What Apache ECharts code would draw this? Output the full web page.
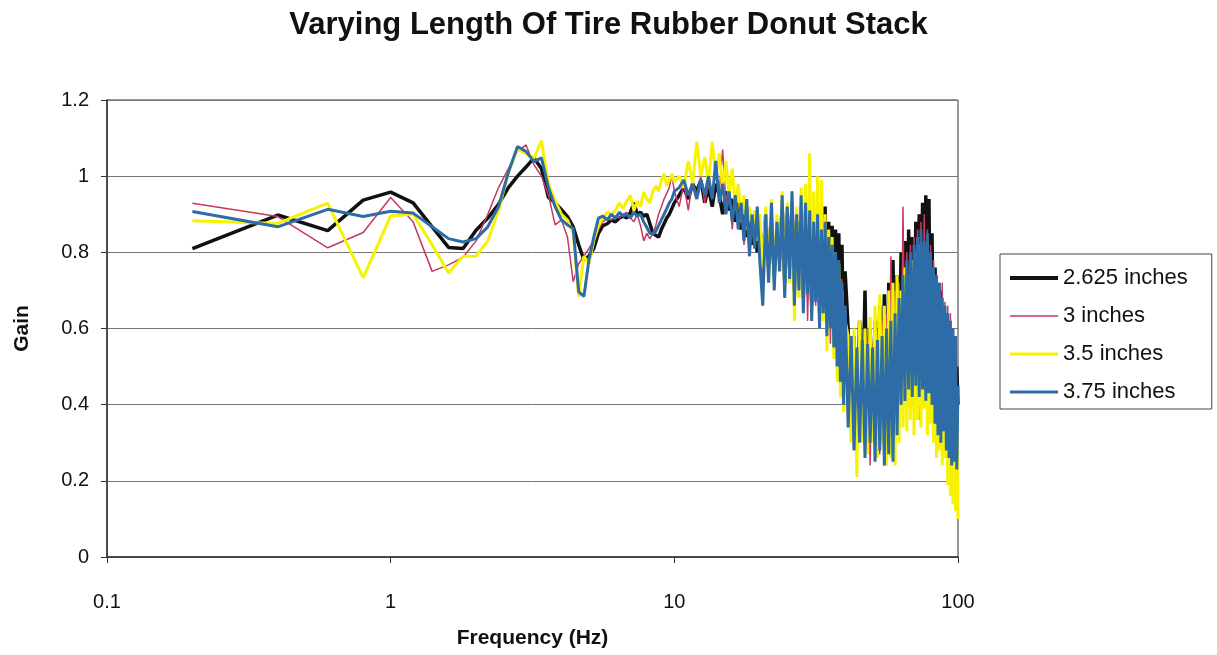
<!DOCTYPE html>
<html>
<head>
<meta charset="utf-8">
<script src="https://cdn.jsdelivr.net/npm/echarts@6/dist/echarts.min.js"></script>
<style>
html,body{margin:0;padding:0;background:#fff;}
#chart{width:1217px;height:655px;}
</style>
</head>
<body>
<div id="chart"></div>
<script>
// Frequency samples (Hz)
const freq = [
  0.2,0.4,0.6,0.8,1,1.2,1.4,1.6,1.8,2,
  2.2,2.4,2.6,2.8,3,3.2,3.4,3.6,3.8,4,
  4.2,4.4,4.6,4.8,5,5.2,5.4,5.6,5.8,6,
  6.2,6.4,6.6,6.8,7,7.2,7.4,7.6,7.8,8,
  8.2,8.4,8.6,8.8,9,9.2,9.4,9.6,9.8,10,
  10.4,10.8,11.2,11.6,12,12.4,12.8,13.2,13.6,14,14.4,14.8,15.2,15.6,16,16.4,16.8,17.2,17.6,18,18.4,18.8,19.2,19.6,20,
  20.5,21,21.5,22,22.5,23,23.5,24,24.5,25,25.5,26,26.5,27,27.5,28,28.5,29,29.5,30,
  30.5,31,31.5,32,32.5,33,33.5,34,34.5,35,35.5,36,36.5,37,37.5,38,38.5,39,39.5,40,
  41,42,43,44,45,46,47,48,49,50,
  51,52,53,54,55,56,57,58,59,60,
  61,62,63,64,65,66,67,68,69,70,
  71,72,73,74,75,76,77,78,79,80,
  81,82,83,84,85,86,87,88,89,90,
  91,92,93,94,95,96,97,98,99,100
];

const seriesNames = ['2.625 inches', '3 inches', '3.5 inches', '3.75 inches'];

const gain2625 = [
  0.81,0.898,0.857,0.937,0.958,0.93,0.867,0.813,0.81,0.858,
  0.89,0.926,0.97,1.0,1.024,1.048,1.02,0.944,0.93,0.912,
  0.894,0.867,0.82,0.78,0.79,0.81,0.85,0.87,0.875,0.885,
  0.88,0.89,0.895,0.89,0.905,0.93,0.9,0.905,0.895,0.9,
  0.875,0.85,0.845,0.84,0.86,0.875,0.89,0.9,0.915,0.93,
  0.95,0.97,0.94,0.98,0.96,0.99,0.93,0.97,0.92,0.98,0.95,0.9,0.96,0.91,0.94,0.88,0.93,0.86,0.9,0.84,0.89,0.82,0.88,0.8,0.86,
  0.78,0.9,0.76,0.88,0.74,0.86,0.78,0.92,0.72,0.9,0.76,0.93,0.7,0.88,0.74,0.92,0.68,0.9,0.72,0.9,
  0.66,0.88,0.7,0.89,0.64,0.9,0.66,0.92,0.62,0.88,0.64,0.87,0.58,0.86,0.56,0.85,0.52,0.82,0.5,0.75,
  0.6,0.36,0.58,0.34,0.62,0.36,0.7,0.32,0.6,0.35,
  0.62,0.3,0.66,0.34,0.69,0.32,0.72,0.36,0.78,0.4,
  0.74,0.45,0.8,0.48,0.83,0.5,0.86,0.52,0.84,0.5,
  0.88,0.48,0.9,0.5,0.93,0.52,0.95,0.5,0.94,0.48,
  0.85,0.45,0.76,0.42,0.72,0.4,0.7,0.38,0.66,0.35,
  0.64,0.33,0.6,0.3,0.58,0.3,0.55,0.28,0.5,0.4
];

const gain3 = [
  0.929,0.894,0.812,0.852,0.944,0.88,0.75,0.767,0.787,0.83,
  0.9,0.97,1.02,1.065,1.082,1.03,1.0,0.95,0.872,0.885,
  0.84,0.723,0.77,0.79,0.81,0.83,0.86,0.88,0.89,0.885,
  0.895,0.89,0.9,0.905,0.89,0.88,0.9,0.87,0.83,0.85,
  0.835,0.85,0.87,0.9,0.92,0.94,0.955,0.97,1.005,0.96,
  0.92,0.98,0.91,0.99,0.95,1.0,0.93,0.98,0.94,1.02,0.96,1.07,0.93,0.98,0.86,0.95,0.88,0.93,0.82,0.9,0.79,0.88,0.83,0.9,0.81,
  0.74,0.88,0.76,0.91,0.72,0.87,0.78,0.9,0.7,0.88,0.74,0.91,0.65,0.86,0.7,0.95,0.66,0.9,0.62,0.88,
  0.64,0.87,0.66,0.86,0.6,0.85,0.62,0.86,0.58,0.83,0.56,0.82,0.52,0.8,0.48,0.76,0.44,0.73,0.42,0.65,
  0.36,0.56,0.3,0.54,0.32,0.55,0.28,0.58,0.24,0.56,
  0.3,0.6,0.27,0.62,0.3,0.64,0.3,0.79,0.34,0.7,
  0.4,0.72,0.42,0.92,0.44,0.8,0.45,0.82,0.4,0.84,
  0.44,0.86,0.36,0.88,0.42,0.9,0.44,0.86,0.38,0.82,
  0.4,0.78,0.35,0.74,0.34,0.7,0.3,0.72,0.32,0.67,
  0.3,0.66,0.28,0.64,0.26,0.6,0.28,0.56,0.24,0.42
];

const gain35 = [
  0.883,0.876,0.929,0.733,0.896,0.9,0.82,0.746,0.79,0.79,
  0.83,0.91,1.01,1.07,1.06,1.047,1.093,0.98,0.935,0.9,
  0.885,0.85,0.684,0.79,0.77,0.83,0.87,0.89,0.905,0.9,
  0.91,0.93,0.915,0.935,0.95,0.91,0.935,0.92,0.958,0.94,
  0.93,0.96,0.975,0.96,0.99,1.006,0.975,0.99,1.006,0.985,
  1.0,0.97,1.04,0.98,1.09,1.0,1.05,0.98,1.09,1.0,1.06,0.97,1.04,0.95,1.02,0.92,0.98,0.88,0.95,0.86,0.92,0.85,0.91,0.83,0.9,
  0.76,0.92,0.74,0.94,0.72,0.9,0.76,0.96,0.7,0.93,0.72,0.95,0.62,0.92,0.68,0.97,0.66,0.98,0.7,1.06,
  0.64,0.96,0.68,1.0,0.6,0.99,0.62,0.9,0.54,0.86,0.6,0.84,0.52,0.8,0.46,0.77,0.42,0.7,0.38,0.62,
  0.58,0.3,0.6,0.21,0.62,0.3,0.6,0.27,0.63,0.3,
  0.66,0.26,0.69,0.3,0.66,0.24,0.7,0.26,0.72,0.24,
  0.74,0.3,0.7,0.34,0.76,0.33,0.72,0.36,0.78,0.32,
  0.8,0.36,0.82,0.34,0.8,0.39,0.78,0.32,0.76,0.35,
  0.72,0.3,0.7,0.26,0.66,0.28,0.62,0.24,0.6,0.26,
  0.56,0.19,0.54,0.16,0.5,0.14,0.46,0.12,0.4,0.1
];

const gain375 = [
  0.907,0.867,0.913,0.894,0.908,0.903,0.867,0.836,0.827,0.836,
  0.867,0.92,1.01,1.078,1.065,1.038,1.048,0.97,0.92,0.885,
  0.872,0.863,0.697,0.684,0.78,0.84,0.89,0.895,0.885,0.9,
  0.89,0.905,0.895,0.9,0.89,0.905,0.895,0.9,0.88,0.865,
  0.85,0.848,0.855,0.87,0.885,0.9,0.915,0.93,0.94,0.96,
  0.97,0.99,0.95,0.98,0.94,0.99,0.95,1.0,0.94,1.04,0.93,0.98,0.9,0.96,0.88,0.95,0.86,0.93,0.83,0.94,0.79,0.9,0.81,0.92,0.78,
  0.66,0.9,0.72,0.93,0.7,0.88,0.75,0.95,0.68,0.92,0.73,0.96,0.66,0.9,0.7,0.95,0.64,0.93,0.69,0.91,
  0.62,0.88,0.67,0.9,0.6,0.86,0.64,0.88,0.58,0.84,0.6,0.82,0.55,0.8,0.5,0.78,0.46,0.72,0.4,0.66,
  0.34,0.58,0.28,0.55,0.3,0.57,0.26,0.56,0.3,0.55,
  0.25,0.57,0.28,0.58,0.24,0.6,0.27,0.62,0.25,0.64,
  0.32,0.68,0.4,0.74,0.41,0.78,0.44,0.8,0.42,0.82,
  0.45,0.84,0.42,0.86,0.44,0.83,0.41,0.85,0.43,0.8,
  0.4,0.76,0.35,0.74,0.32,0.72,0.3,0.68,0.33,0.66,
  0.28,0.64,0.26,0.62,0.24,0.6,0.25,0.58,0.23,0.45
];

const yTicks = [0, 0.2, 0.4, 0.6, 0.8, 1, 1.2];
const xTicks = [0.1, 1, 10, 100];

const FONT = '"Liberation Sans", Arial, Helvetica, sans-serif';
const colors = ['#111111', '#c8385e', '#f7f200', '#2d6ca6'];
const widths = [3.5, 1.5, 3, 3];
const legendIcons = [
  'path://M0,0H48V4H0Z',
  'path://M0,0H48V1.6H0Z',
  'path://M0,0H48V3.2H0Z',
  'path://M0,0H48V3.2H0Z'
];
const gains = [gain2625, gain3, gain35, gain375];

const chart = echarts.init(document.getElementById('chart'), null, {renderer: 'canvas'});
chart.setOption({
  animation: false,
  backgroundColor: '#ffffff',
  title: {
    text: 'Varying Length Of Tire Rubber Donut Stack',
    left: 'center',
    top: 5,
    textStyle: {fontFamily: FONT, fontSize: 31, fontWeight: 'bold', color: '#111'}
  },
  grid: {
    left: 107, right: 259, top: 100, bottom: 98,
    show: true, borderColor: '#333', borderWidth: 1, backgroundColor: 'transparent'
  },
  legend: {
    orient: 'vertical',
    left: 1000,
    top: 254,
    backgroundColor: '#fff',
    borderColor: '#444',
    borderWidth: 1,
    padding: [13, 24, 6, 10],
    itemWidth: 48,
    itemHeight: 14,
    itemGap: 16,
    symbolKeepAspect: true,
    textStyle: {fontFamily: FONT, fontSize: 22, color: '#111'},
    data: seriesNames.map(function (n, k) {
      return {name: n, icon: legendIcons[k], itemStyle: {color: colors[k]}};
    })
  },
  xAxis: {
    type: 'log',
    logBase: 10,
    min: xTicks[0],
    max: xTicks[xTicks.length - 1],
    name: 'Frequency (Hz)',
    nameLocation: 'middle',
    nameGap: 71,
    nameTextStyle: {fontFamily: FONT, fontSize: 21, fontWeight: 'bold', color: '#111'},
    axisLine: {show: true, onZero: false, lineStyle: {color: '#333', width: 1.5}},
    axisTick: {show: true, length: 6, lineStyle: {color: '#333'}},
    axisLabel: {
      margin: 35, fontFamily: FONT, fontSize: 20, color: '#111',
      formatter: function (v) { return String(v); }
    },
    splitLine: {show: false},
    minorTick: {show: false}
  },
  yAxis: {
    type: 'value',
    min: yTicks[0],
    max: yTicks[yTicks.length - 1],
    interval: 0.2,
    name: 'Gain',
    nameLocation: 'middle',
    nameGap: 74,
    nameTextStyle: {fontFamily: FONT, fontSize: 21, fontWeight: 'bold', color: '#111'},
    axisLine: {show: true, lineStyle: {color: '#333', width: 1.5}},
    axisTick: {show: true, length: 6, lineStyle: {color: '#333'}},
    axisLabel: {margin: 18, fontFamily: FONT, fontSize: 20, color: '#111'},
    splitLine: {show: true, lineStyle: {color: '#777', width: 1}}
  },
  series: seriesNames.map(function (name, k) {
    return {
      name: name,
      type: 'line',
      symbol: 'none',
      showSymbol: false,
      smooth: false,
      lineStyle: {color: colors[k], width: widths[k]},
      itemStyle: {color: colors[k]},
      data: freq.map(function (f, i) { return [f, gains[k][i]]; })
    };
  })
});
</script>
</body>
</html>
